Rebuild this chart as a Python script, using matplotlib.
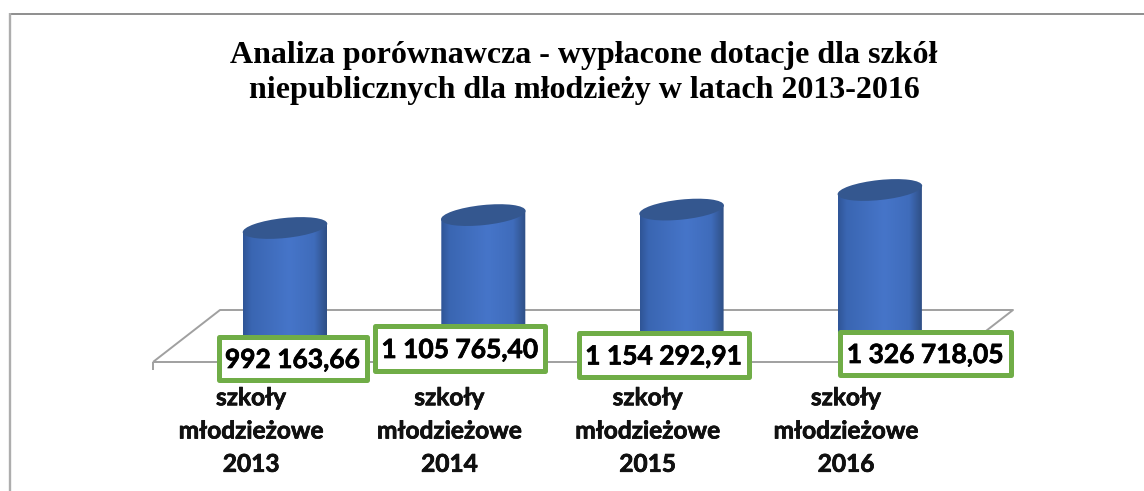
import matplotlib
matplotlib.use("Agg")
import matplotlib.pyplot as plt
import matplotlib.patheffects as pe
import numpy as np
from matplotlib.colors import LinearSegmentedColormap
from matplotlib.patches import Ellipse, Rectangle, Polygon
from matplotlib.transforms import Affine2D, IdentityTransform

# Data
years = ["2013", "2014", "2015", "2016"]
values = [992163.66, 1105765.40, 1154292.91, 1326718.05]
category = "szkoły\nmłodzieżowe"
title = "Analiza porównawcza - wypłacone dotacje dla szkół\nniepublicznych dla młodzieży w latach 2013-2016"

W, H = 1144, 491
x0_px, step_px = 285.0, 198.3     # first bar centre, distance between bars
y0_px, px_per_unit = 340.7, 0.0001136   # floor level, pixels per zł

# label boxes in pixels: left, top, right, bottom
boxes = [(218.5, 336.5, 366.5, 379.5), (374.5, 325.5, 544.5, 370.5),
         (578.5, 332.5, 748.5, 376.5), (839.5, 331.5, 1010.5, 374.5)]

fig = plt.figure(figsize=(W / 100, H / 100), dpi=100)
ax = fig.add_axes([0, 0, 1, 1])
xlim = (-x0_px / step_px, (W - x0_px) / step_px)
ylim = (-(H - y0_px) / px_per_unit, y0_px / px_per_unit)
ax.set_xlim(xlim)
ax.set_ylim(ylim)
ax.axis("off")

# pixel coordinates, y going down
pix = Affine2D().scale(1, -1).translate(0, H)
heavier = [pe.withStroke(linewidth=0.5, foreground="black")]


def pline(xs, ys, color, lw, z=1):
    ax.plot(xs, ys, color=color, lw=lw, transform=pix, zorder=z, clip_on=False,
            solid_capstyle="butt")


# outer frame (only top and left are visible)
pline([10, 1144], [13.5, 13.5], "#868686", 1.3)
pline([10, 10], [13, 491], "#ADADAD", 1.7)

# floor of the 3D chart
floor = "#A0A0A0"
pline([153, 220, 1013, 946, 153], [362, 310, 310, 362, 362], floor, 1.4)
pline([153, 153], [362, 370], floor, 1.4)

# cylinders
cmap = LinearSegmentedColormap.from_list("cyl", [
    (0.0, "#2F5596"), (0.1, "#3A66B2"), (0.55, "#4675C9"),
    (0.85, "#3F6CBB"), (1.0, "#2F4F85")])
grad = np.linspace(0, 1, 256).reshape(1, -1)
bar_w = 84 / step_px
bars = ax.bar(range(len(values)), values, width=bar_w, facecolor="none", edgecolor="none", zorder=3)
for i, (b, v) in enumerate(zip(bars, values)):
    cx, cy = ax.transData.transform((i, v))
    bx, by = ax.transData.transform((i, 0))
    # side wall with a top edge that follows the tilted ellipse
    wall = Polygon([(cx - 42, by), (cx + 42, by), (cx + 42, cy + 4.5), (cx - 42, cy - 4.5)],
                   transform=IdentityTransform(), facecolor="none", edgecolor="none")
    ax.add_patch(wall)
    im = ax.imshow(grad, cmap=cmap, aspect="auto", zorder=3.1,
                   extent=(i - bar_w / 2, i + bar_w / 2, 0, v * 1.1))
    im.set_clip_path(wall)
    ax.add_patch(Ellipse((cx, cy), 85, 20, angle=6, transform=IdentityTransform(),
                         facecolor="#34578F", edgecolor="none", zorder=4))
# imshow resets the limits
ax.set_xlim(xlim)
ax.set_ylim(ylim)

# value labels in green boxes
for v, (l, t, r, btm) in zip(values, boxes):
    ax.add_patch(Rectangle((l, t), r - l, btm - t, transform=pix, facecolor="white",
                           edgecolor="#70AD47", lw=3.6, zorder=5, joinstyle="round"))
    label = f"{v:,.2f}".replace(",", " ").replace(".", ",")
    ax.text((l + r) / 2, (t + btm) / 2, label, transform=pix, ha="center", va="center_baseline",
            family="Lato", weight="bold", fontsize=19, color="black", zorder=6,
            path_effects=heavier)

# category labels
for i, y in enumerate(years):
    cx = x0_px + step_px * i - 34
    ax.text(cx, 431, category + "\n" + y, transform=pix, ha="center", va="center",
            family="Lato", weight="bold", fontsize=17.6, color="#111111",
            linespacing=1.54, zorder=6, path_effects=heavier)

ax.text(584, 73, title, transform=pix, ha="center", va="center", family="Liberation Serif",
        weight="bold", fontsize=23, color="black", linespacing=1.3, zorder=6)

fig.savefig("out.png", dpi=100, facecolor="white")
